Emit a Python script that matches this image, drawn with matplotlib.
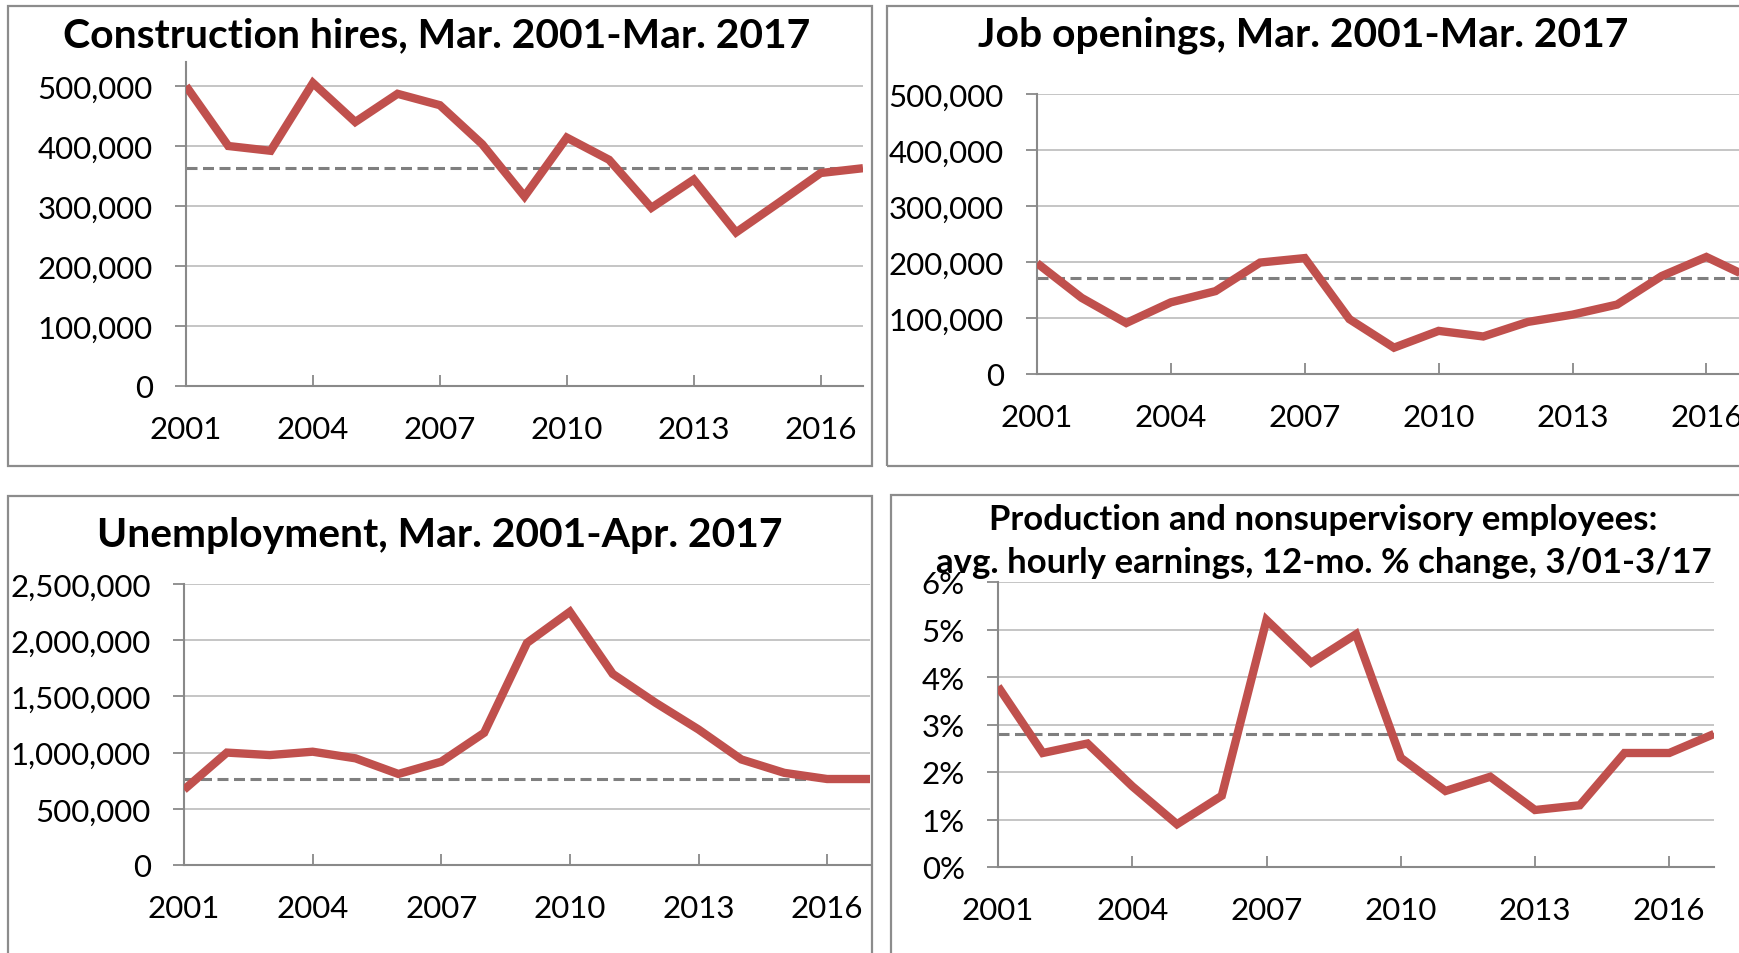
import matplotlib
matplotlib.use("Agg")
import matplotlib.pyplot as plt
from matplotlib.patches import Rectangle
from matplotlib.ticker import FuncFormatter

plt.rcParams['font.family'] = ['Lato', 'DejaVu Sans']

# ---------------- data ----------------
years = list(range(2001, 2018))
year_ticks = [2001, 2004, 2007, 2010, 2013, 2016]

hires = [500000, 400000, 392000, 505000, 440000, 487000, 468000, 403000, 316000,
         414000, 377000, 297000, 344000, 256000, 305000, 355000, 363000]
openings = [198000, 136000, 91000, 128000, 148000, 199000, 207000, 98000, 47000,
            77000, 67000, 93000, 106000, 124000, 175000, 209000, 171000]
unemployment = [670000, 1000000, 978000, 1008000, 949000, 810000, 919000, 1176000,
                1976000, 2253000, 1700000, 1443000, 1206000, 939000, 820000,
                765000, 765000]
earnings = [3.8, 2.4, 2.6, 1.7, 0.9, 1.5, 5.2, 4.3, 4.9, 2.3, 1.6, 1.9, 1.2, 1.3,
            2.4, 2.4, 2.8]

titles = ["Construction hires, Mar. 2001-Mar. 2017",
          "Job openings, Mar. 2001-Mar. 2017",
          "Unemployment, Mar. 2001-Apr. 2017",
          "Production and nonsupervisory employees:\navg. hourly earnings, 12-mo. % change, 3/01-3/17"]

hires_ticks = [0, 100000, 200000, 300000, 400000, 500000]
openings_ticks = [0, 100000, 200000, 300000, 400000, 500000]
unemp_ticks = [0, 500000, 1000000, 1500000, 2000000, 2500000]
earn_ticks = [0, 1, 2, 3, 4, 5, 6]

# ---------------- style ----------------
W, H = 1740, 954
fig = plt.figure(figsize=(W / 100, H / 100), dpi=100)
fig.patch.set_facecolor('white')

RED = '#C0504D'
SPINE = '#898989'
GRID = '#C0C0C0'
DASH = '#7F7F7F'
FRAME = '#8C8C8C'


def px_axes(l, r, t, b):
    return fig.add_axes([l / W, 1 - b / H, (r - l) / W, (b - t) / H])


def frame(x0, y0, x1, y1):
    fig.add_artist(Rectangle((x0 / W, 1 - y1 / H), (x1 - x0) / W, (y1 - y0) / H,
                             transform=fig.transFigure, fill=False,
                             edgecolor=FRAME, lw=1.6))


comma = FuncFormatter(lambda v, p: f"{int(v):,}")
pct = FuncFormatter(lambda v, p: f"{int(round(v))}%")


def style(ax, values, yticks, ymax, fmt):
    ax.plot(years, values, color=RED, lw=6.0, solid_joinstyle='miter',
            solid_capstyle='butt', zorder=3)
    ax.axhline(values[-1], color=DASH, lw=2.2, dashes=(3.6, 1.8), zorder=2)
    ax.set_xlim(2001, 2017)
    ax.set_ylim(0, ymax)
    ax.set_yticks(yticks)
    ax.yaxis.set_major_formatter(fmt)
    ax.set_xticks(year_ticks)
    ax.set_xticklabels([str(y) for y in year_ticks])
    for y in yticks[1:]:
        ax.axhline(y, color=GRID, lw=1.3, zorder=1)
    for s in ['top', 'right']:
        ax.spines[s].set_visible(False)
    for s in ['left', 'bottom']:
        ax.spines[s].set_color(SPINE)
        ax.spines[s].set_linewidth(1.5)
        ax.spines[s].set_zorder(2.5)
    ax.tick_params(axis='y', direction='out', length=8, width=1.3, color=SPINE,
                   labelsize=22.5, pad=16)
    ax.tick_params(axis='x', direction='in', length=8, width=1.3, color=SPINE,
                   labelsize=22.5, pad=21)
    ax.set_facecolor('none')


# panel frames
frame(8, 7, 872, 467)
frame(887, 7, 1760, 467)
frame(8, 497, 872, 980)
frame(891, 496, 1760, 980)

ax1 = px_axes(186, 863, 63, 387)
style(ax1, hires, hires_ticks, 540000, comma)
ax2 = px_axes(1037, 1751, 95, 375)
style(ax2, openings, openings_ticks, 500000, comma)
ax3 = px_axes(184, 870, 585, 866)
style(ax3, unemployment, unemp_ticks, 2500000, comma)
ax4 = px_axes(998, 1714, 583, 868)
style(ax4, earnings, earn_ticks, 6, pct)

# titles
fig.text(437 / W, 1 - 47 / H, titles[0], ha='center', va='baseline',
         fontsize=29.4, fontweight='bold')
fig.text(1303 / W, 1 - 47 / H, titles[1], ha='center', va='baseline',
         fontsize=29.4, fontweight='bold')
fig.text(440 / W, 1 - 547 / H, titles[2], ha='center', va='baseline',
         fontsize=29.4, fontweight='bold')
l1, l2 = titles[3].split('\n')
fig.text(1323 / W, 1 - 530 / H, l1, ha='center', va='baseline',
         fontsize=25, fontweight='bold')
fig.text(1324 / W, 1 - 573 / H, l2, ha='center', va='baseline',
         fontsize=25, fontweight='bold', zorder=5)

fig.savefig('out.png', dpi=100, facecolor='white')
